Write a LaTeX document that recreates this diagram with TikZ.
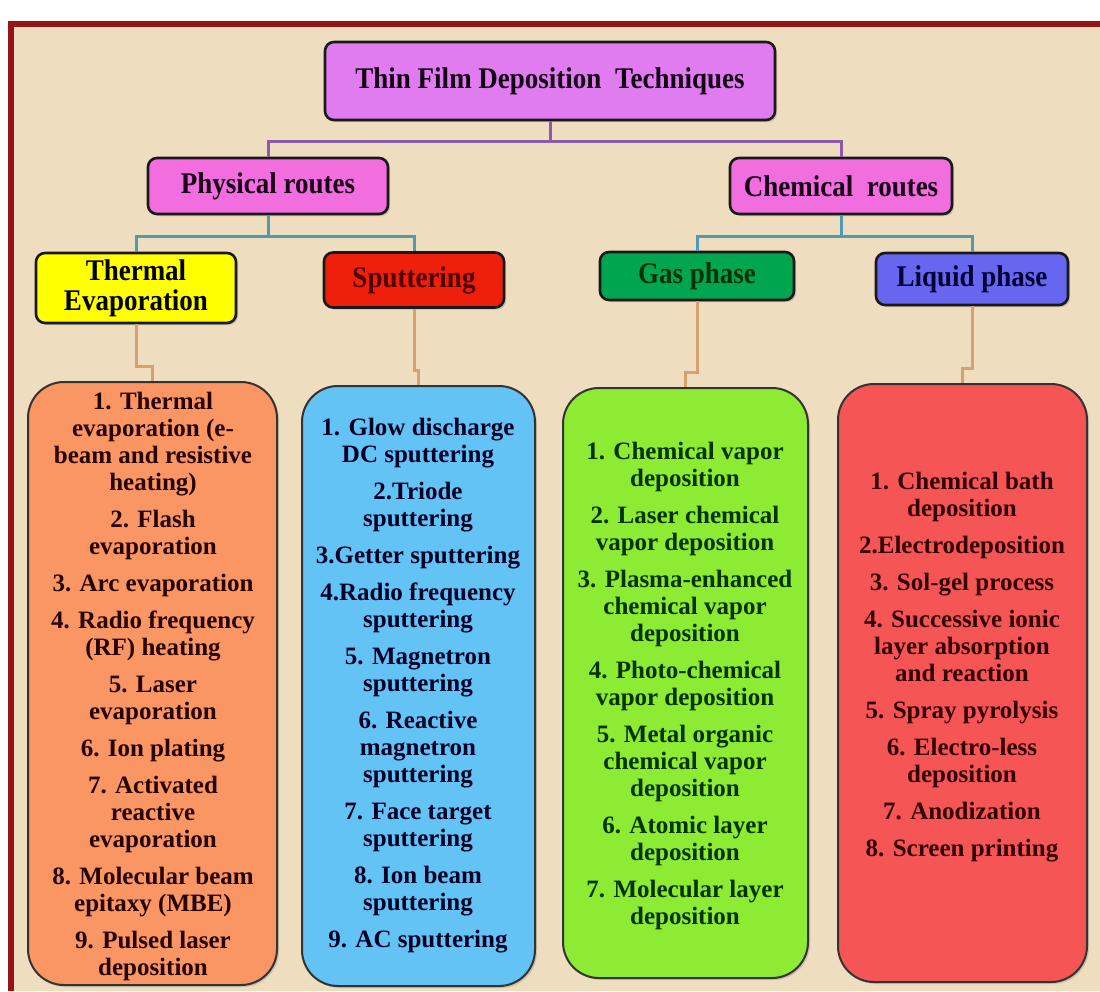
\documentclass[tikz,border=0pt]{standalone}
\usepackage{fontspec}
\setmainfont{Liberation Serif}
\newfontfamily\headfont{Liberation Serif}[FakeStretch=0.9]
\usetikzlibrary{shadows}
\definecolor{parch}{RGB}{238,221,190}
\definecolor{frame}{RGB}{150,20,22}
\definecolor{rootc}{RGB}{224,124,240}
\definecolor{routec}{RGB}{242,110,222}
\definecolor{thermc}{RGB}{255,255,0}
\definecolor{sputc}{RGB}{238,32,12}
\definecolor{gasc}{RGB}{0,165,80}
\definecolor{liqc}{RGB}{102,102,240}
\definecolor{evaplist}{RGB}{250,150,100}
\definecolor{sputlist}{RGB}{100,195,245}
\definecolor{gaslist}{RGB}{140,235,50}
\definecolor{liqlist}{RGB}{245,85,85}
\definecolor{tiea}{RGB}{140,90,170}
\definecolor{tieb}{RGB}{80,155,175}
\definecolor{tiec}{RGB}{215,160,110}
\tikzset{
  head/.style={draw=black!90, line width=2.6pt, rounded corners=9pt, align=center,
    inner sep=0pt, font=\headfont\bfseries\fontsize{30}{30}\selectfont,
    drop shadow={shadow xshift=2pt, shadow yshift=-2pt, opacity=0.35}},
  listbox/.style={draw=black!80, line width=2pt, rounded corners=36pt, inner sep=0pt,
    drop shadow={shadow xshift=2pt, shadow yshift=-2pt, opacity=0.3}},
  items/.style={align=center, inner sep=0pt, font=\bfseries\fontsize{25}{27}\selectfont},
  tie/.style={line width=3pt}
}
\begin{document}
\begin{tikzpicture}[x=1pt, y=-1pt]
\useasboundingbox (0,0) rectangle (1100,991);
\fill[white] (0,0) rectangle (1100,991);
\fill[parch] (11,24) rectangle (1100,991);
\draw[frame, line width=6pt] (11,991) -- (11,24) -- (1100,24);

\node[head, fill=rootc, text=black!85!violet, minimum width=450pt, minimum height=78pt] (root) at (550,81) {Thin Film Deposition\ \ Techniques};
\node[head, fill=routec, text=black!80!violet, minimum width=240pt, minimum height=56pt] (phys) at (268,186) {Physical routes};
\node[head, fill=routec, text=black!80!violet, minimum width=222pt, minimum height=56pt] (chem) at (841,186) {Chemical\ \ routes};
\node[head, fill=thermc, text=black, minimum width=200pt, minimum height=70pt] (therm) at (136,288) {Thermal\\Evaporation};
\node[head, fill=sputc, text=black!70!red, minimum width=180pt, minimum height=55pt] (sput) at (414,280) {Sputtering};
\node[head, fill=gasc, text=black!80!green, minimum width=194pt, minimum height=48pt] (gas) at (697,276) {Gas phase};
\node[head, fill=liqc, text=black!80!blue, minimum width=192pt, minimum height=52pt] (liq) at (972,279) {Liquid phase};

\node[listbox, fill=evaplist, minimum width=249pt, minimum height=603pt] (evapbox) at (152.5,683.5) {};
\node[listbox, fill=sputlist, minimum width=233pt, minimum height=600pt] (sputbox) at (418.5,686) {};
\node[listbox, fill=gaslist, minimum width=245pt, minimum height=590pt] (gasbox) at (685.5,683) {};
\node[listbox, fill=liqlist, minimum width=249pt, minimum height=598pt] (liqbox) at (962.5,683) {};

\node[items, text=black!85!red] (evaptext) at (153,686) {1. Thermal\\evaporation (e-\\beam and resistive\\heating)\\[10pt]2. Flash\\evaporation\\[10pt]3. Arc evaporation\\[10pt]4. Radio frequency\\(RF) heating\\[10pt]5. Laser\\evaporation\\[10pt]6. Ion plating\\[10pt]7. Activated\\reactive\\evaporation\\[10pt]8. Molecular beam\\epitaxy (MBE)\\[10pt]9. Pulsed laser\\deposition};
\node[items, text=black!85!blue] (sputtext) at (418,686) {1. Glow discharge\\DC sputtering\\[10pt]2.Triode\\sputtering\\[10pt]3.Getter sputtering\\[10pt]4.Radio frequency\\sputtering\\[10pt]5. Magnetron\\sputtering\\[10pt]6. Reactive\\magnetron\\sputtering\\[10pt]7. Face target\\sputtering\\[10pt]8. Ion beam\\sputtering\\[10pt]9. AC sputtering};
\node[items, text=black!80!green] (gastext) at (685,686) {1. Chemical vapor\\deposition\\[10pt]2. Laser chemical\\vapor deposition\\[10pt]3. Plasma-enhanced\\chemical vapor\\deposition\\[10pt]4. Photo-chemical\\vapor deposition\\[10pt]5. Metal organic\\chemical vapor\\deposition\\[10pt]6. Atomic layer\\deposition\\[10pt]7. Molecular layer\\deposition};
\node[items, text=black!80!red] (liqtext) at (962,667) {1. Chemical bath\\deposition\\[10pt]2.Electrodeposition\\[10pt]3. Sol-gel process\\[10pt]4. Successive ionic\\layer absorption\\and reaction\\[10pt]5. Spray pyrolysis\\[10pt]6. Electro-less\\deposition\\[10pt]7. Anodization\\[10pt]8. Screen printing};

\draw[tie, tiea] (root.south) -- ++(0,20) -| (phys.north);
\draw[tie, tiea] (root.south) -- ++(0,20) -| (chem.north);
\draw[tie, tieb] (phys.south) -- ++(0,21) -| (therm.north);
\draw[tie, tieb] (phys.south) -- ++(0,21) -| (sput.north);
\draw[tie, tieb] (chem.south) -- ++(0,21) -| (gas.north);
\draw[tie, tieb] (chem.south) -- ++(0,21) -| (liq.north);
\draw[tie, tiec] (therm.south) -- (therm.south |- 0,366) -| (evapbox.north);
\draw[tie, tiec] (sput.south) -- (sput.south |- 0,370) -| (sputbox.north);
\draw[tie, tiec] (gas.south) -- (gas.south |- 0,372) -| (gasbox.north);
\draw[tie, tiec] (liq.south) -- (liq.south |- 0,368) -| (liqbox.north);
\end{tikzpicture}
\end{document}
